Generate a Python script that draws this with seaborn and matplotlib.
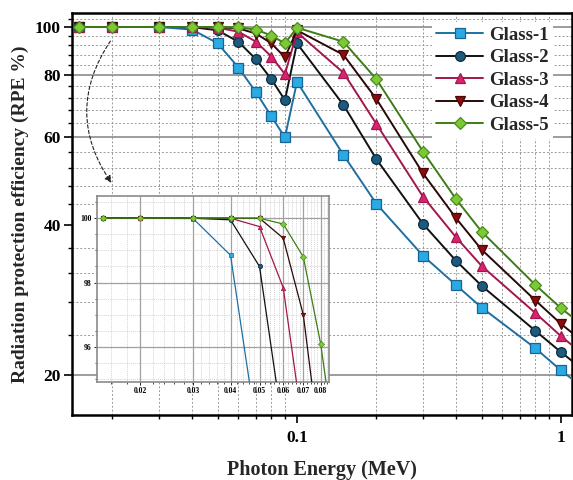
import matplotlib
matplotlib.use("Agg")
import matplotlib.pyplot as plt
import seaborn as sns
import numpy as np
from matplotlib.ticker import FixedLocator, NullFormatter, FixedFormatter, MultipleLocator, LogLocator

# ---------------- data ----------------
energy = [0.015, 0.02, 0.03, 0.04, 0.05, 0.06, 0.07, 0.08, 0.09, 0.1,
          0.15, 0.2, 0.3, 0.4, 0.5, 0.8, 1.0, 1.25]
glass1 = [100, 100, 99.99, 98.85, 92.8, 82.9, 73.9, 66.1, 60.0, 77.6,
          55.3, 44.1, 34.7, 30.3, 27.3, 22.6, 20.4, 18.6]
glass2 = [100, 100, 100, 99.95, 98.5, 93.4, 86.1, 78.5, 71.3, 92.7,
          69.7, 54.2, 40.2, 33.9, 30.2, 24.5, 22.2, 20.2]
glass3 = [100, 100, 100, 100, 99.74, 97.84, 93.4, 87.2, 80.4, 97.6,
          80.9, 63.8, 45.6, 37.8, 33.1, 26.6, 23.9, 21.7]
glass4 = [100, 100, 100, 100, 100, 99.38, 97.0, 92.7, 86.9, 98.5,
          87.9, 71.6, 50.8, 41.3, 35.7, 28.2, 25.3, 23.0]
glass5 = [100, 100, 100, 100, 100, 99.82, 98.8, 96.1, 92.7, 99.7,
          93.4, 78.5, 56.2, 45.1, 38.8, 30.3, 27.2, 24.8]
names = ["Glass-1", "Glass-2", "Glass-3", "Glass-4", "Glass-5"]
series = [glass1, glass2, glass3, glass4, glass5]

main_yticks = [20, 40, 60, 80, 100]
main_xtick_labels = {0.1: "0.1", 1.0: "1"}
inset_xticks = [0.02, 0.03, 0.04, 0.05, 0.06, 0.07, 0.08]
inset_xtick_labels = ["0.02", "0.03", "0.04", "0.05", "0.06", "0.07", "0.08"]
inset_yticks = [96, 98, 100]

# ---------------- styles ----------------
styles = [
    dict(line="#1f6fa3", face="#2aaae2", edge="#1a6394", marker="s", ms=6.5),
    dict(line="#111111", face="#1e5a7c", edge="#0b2c42", marker="o", ms=7),
    dict(line="#a3164d", face="#d8246f", edge="#a3164d", marker="^", ms=7.5),
    dict(line="#2a0808", face="#8b0c0c", edge="#4a0505", marker="v", ms=7.5),
    dict(line="#3c7d16", face="#7dc935", edge="#4b8c1c", marker="D", ms=6),
]

sns.set_theme(style="white")
plt.rcParams["font.family"] = ["Liberation Serif", "DejaVu Serif"]
plt.rcParams["font.weight"] = "bold"

fig = plt.figure(figsize=(5.73, 4.80), dpi=100)
ax = fig.add_axes([72 / 573, 65 / 480, 500 / 573, 402 / 480])

for name, vals, st in zip(names, series, styles):
    sns.lineplot(x=energy, y=vals, ax=ax, color=st["line"], marker=st["marker"],
                 markersize=st["ms"], markerfacecolor=st["face"],
                 markeredgecolor=st["edge"], markeredgewidth=0.9,
                 linewidth=1.4, label=name, zorder=4)

ax.set_xscale("log")
ax.set_yscale("log")
ax.set_xlim(0.01406, 1.10)
ax.set_ylim(16.6, 106.7)

ax.yaxis.set_major_locator(FixedLocator(main_yticks))
ax.yaxis.set_major_formatter(FixedFormatter([str(v) for v in main_yticks]))
ax.yaxis.set_minor_locator(MultipleLocator(4))
ax.yaxis.set_minor_formatter(NullFormatter())

xt = list(main_xtick_labels.keys())
ax.xaxis.set_major_locator(FixedLocator(xt))
ax.xaxis.set_major_formatter(FixedFormatter(list(main_xtick_labels.values())))
ax.xaxis.set_minor_locator(LogLocator(base=10, subs=np.arange(2, 10) * 1.0))
ax.xaxis.set_minor_formatter(NullFormatter())

# grid
ax.grid(False)
ax.grid(which="minor", axis="both", color="#9a9a9a", linestyle=(0, (2, 2)), linewidth=0.7)
for v in [20, 60, 80, 100]:
    ax.axhline(v, color="#8c8c8c", linewidth=1.2, zorder=1)

for sp in ax.spines.values():
    sp.set_color("black")
    sp.set_linewidth(1.8)

ax.tick_params(axis="both", which="major", direction="out", length=6, width=1.2,
               labelsize=12.5, pad=2, top=False, right=False, bottom=True, left=True,
               colors="black")
ax.tick_params(axis="both", which="minor", direction="out", length=3, width=1.0,
               top=False, right=False, bottom=True, left=True, colors="black")
for lab in ax.get_xticklabels() + ax.get_yticklabels():
    lab.set_fontweight("bold")
ax.tick_params(axis="x", which="major", pad=5)

ax.set_xlabel("Photon Energy (MeV)", fontsize=14.5, fontweight="bold", labelpad=10)
ax.set_ylabel("Radiation protection efficiency (RPE %)", fontsize=14, fontweight="bold", labelpad=4)

# legend
handles = [l for l in ax.get_lines() if l.get_label() in names]
leg = ax.legend(handles, names, loc="upper right", bbox_to_anchor=(0.962, 0.978),
                frameon=True, framealpha=1, fancybox=False, edgecolor="none",
                facecolor="white", prop=dict(weight="bold", size=13.5),
                handlelength=2.5, labelspacing=0.29, borderaxespad=0,
                borderpad=0.25, handletextpad=0.3)
leg.set_zorder(10)

# arrow
ax.annotate("", xy=(0.082, 0.572), xycoords="axes fraction",
            xytext=(0.08, 0.936), textcoords="axes fraction",
            arrowprops=dict(arrowstyle="-|>", linestyle=(0, (3, 2)),
                            connectionstyle="arc3,rad=0.35", color="#222222",
                            lw=0.8, mutation_scale=10), zorder=6)

# ---------------- inset ----------------
axins = fig.add_axes([97 / 573, 1 - 381.7 / 480, 232 / 573, 186 / 480])
axins.set_facecolor("white")
axins.set_zorder(8)
for name, vals, st in zip(names, series, styles):
    sns.lineplot(x=energy, y=vals, ax=axins, color=st["line"], marker=st["marker"],
                 markersize=3.2, markerfacecolor=st["face"],
                 markeredgecolor=st["edge"], markeredgewidth=0.5,
                 linewidth=0.9, zorder=4, legend=False)
axins.set_xscale("log")
axins.set_xlim(0.01433, 0.0853)
axins.set_ylim(94.92, 100.7)
axins.xaxis.set_major_locator(FixedLocator(inset_xticks))
axins.xaxis.set_major_formatter(FixedFormatter(inset_xtick_labels))
axins.xaxis.set_minor_locator(MultipleLocator(0.002))
axins.xaxis.set_minor_formatter(NullFormatter())
axins.yaxis.set_major_locator(FixedLocator(inset_yticks))
axins.yaxis.set_major_formatter(FixedFormatter([str(v) for v in inset_yticks]))
axins.yaxis.set_minor_locator(MultipleLocator(0.5))
axins.yaxis.set_minor_formatter(NullFormatter())
axins.grid(False)
axins.grid(which="major", color="#a0a0a0", linewidth=0.9, linestyle="-")
axins.grid(which="minor", color="#c4c4c4", linewidth=0.5, linestyle=(0, (1.5, 1.5)))
for sp in axins.spines.values():
    sp.set_color("#8a8a8a")
    sp.set_linewidth(1.2)
axins.tick_params(axis="both", which="major", direction="out", length=2.5, width=0.6,
                  labelsize=5.5, pad=1.5, colors="black", bottom=True, left=True)
axins.tick_params(axis="both", which="minor", direction="out", length=1.5, width=0.5,
                  bottom=True, left=True, colors="black")
for lab in axins.get_xticklabels() + axins.get_yticklabels():
    lab.set_fontweight("bold")
axins.set_xlabel("")
axins.set_ylabel("")

fig.savefig("out.png", dpi=100)
